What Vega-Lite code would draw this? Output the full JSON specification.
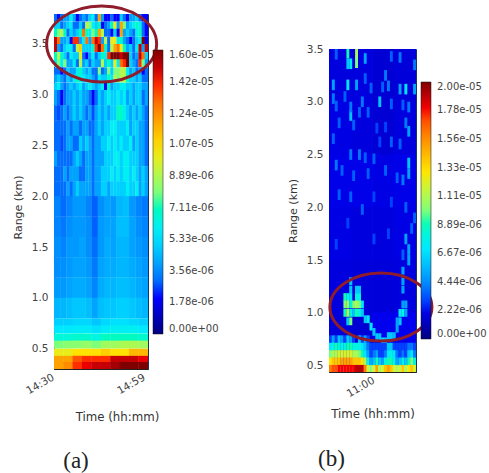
{"$schema":"https://vega.github.io/schema/vega-lite/v6.json","padding":{"left":11,"top":-1,"right":0,"bottom":0},"background":"white","bounds":"flush","spacing":181,"resolve":{"scale":{"color":"independent"},"legend":{"color":"independent"}},"config":{"view":{"stroke":null},"axis":{"grid":false,"ticks":false,"labelFont":"DejaVu Sans","titleFont":"DejaVu Sans","labelFontSize":10.5,"titleFontSize":11,"labelColor":"#444","titleColor":"#333","titleFontWeight":"normal","domainColor":"#222","labelPadding":6},"legend":{"labelFont":"DejaVu Sans"},"title":{"font":"Liberation Serif","fontSize":23,"fontWeight":"normal","color":"#222"}},"datasets":{"a1":[{"x":30,"y":3.76,"v":3},{"x":31,"y":3.76,"v":2},{"x":32,"y":3.76,"v":3},{"x":33,"y":3.76,"v":4},{"x":34,"y":3.76,"v":4},{"x":35,"y":3.76,"v":6},{"x":36,"y":3.76,"v":4},{"x":37,"y":3.76,"v":2},{"x":38,"y":3.76,"v":3},{"x":39,"y":3.76,"v":4},{"x":40,"y":3.76,"v":3},{"x":41,"y":3.76,"v":5},{"x":42,"y":3.76,"v":6},{"x":43,"y":3.76,"v":3},{"x":44,"y":3.76,"v":12},{"x":45,"y":3.76,"v":4},{"x":46,"y":3.76,"v":2},{"x":47,"y":3.76,"v":2},{"x":48,"y":3.76,"v":3},{"x":49,"y":3.76,"v":2},{"x":50,"y":3.76,"v":2},{"x":51,"y":3.76,"v":5},{"x":52,"y":3.76,"v":3},{"x":53,"y":3.76,"v":2},{"x":54,"y":3.76,"v":4},{"x":55,"y":3.76,"v":4},{"x":56,"y":3.76,"v":5},{"x":57,"y":3.76,"v":3},{"x":58,"y":3.76,"v":2},{"x":59,"y":3.76,"v":2},{"x":30,"y":3.68,"v":5},{"x":31,"y":3.68,"v":5},{"x":32,"y":3.68,"v":3},{"x":33,"y":3.68,"v":4},{"x":34,"y":3.68,"v":5},{"x":35,"y":3.68,"v":6},{"x":36,"y":3.68,"v":3},{"x":37,"y":3.68,"v":3},{"x":38,"y":3.68,"v":5},{"x":39,"y":3.68,"v":3},{"x":40,"y":3.68,"v":9},{"x":41,"y":3.68,"v":8},{"x":42,"y":3.68,"v":6},{"x":43,"y":3.68,"v":5},{"x":44,"y":3.68,"v":7},{"x":45,"y":3.68,"v":2},{"x":46,"y":3.68,"v":3},{"x":47,"y":3.68,"v":4},{"x":48,"y":3.68,"v":7},{"x":49,"y":3.68,"v":10},{"x":50,"y":3.68,"v":4},{"x":51,"y":3.68,"v":12},{"x":52,"y":3.68,"v":8},{"x":53,"y":3.68,"v":4},{"x":54,"y":3.68,"v":5},{"x":55,"y":3.68,"v":6},{"x":56,"y":3.68,"v":7},{"x":57,"y":3.68,"v":6},{"x":58,"y":3.68,"v":3},{"x":59,"y":3.68,"v":2},{"x":30,"y":3.61,"v":7},{"x":31,"y":3.61,"v":8},{"x":32,"y":3.61,"v":9},{"x":33,"y":3.61,"v":7},{"x":34,"y":3.61,"v":3},{"x":35,"y":3.61,"v":5},{"x":36,"y":3.61,"v":4},{"x":37,"y":3.61,"v":5},{"x":38,"y":3.61,"v":7},{"x":39,"y":3.61,"v":13},{"x":40,"y":3.61,"v":7},{"x":41,"y":3.61,"v":6},{"x":42,"y":3.61,"v":8},{"x":43,"y":3.61,"v":7},{"x":44,"y":3.61,"v":12},{"x":45,"y":3.61,"v":9},{"x":46,"y":3.61,"v":3},{"x":47,"y":3.61,"v":3},{"x":48,"y":3.61,"v":2},{"x":49,"y":3.61,"v":5},{"x":50,"y":3.61,"v":2},{"x":51,"y":3.61,"v":12},{"x":52,"y":3.61,"v":4},{"x":53,"y":3.61,"v":5},{"x":54,"y":3.61,"v":4},{"x":55,"y":3.61,"v":3},{"x":56,"y":3.61,"v":6},{"x":57,"y":3.61,"v":7},{"x":58,"y":3.61,"v":3},{"x":59,"y":3.61,"v":2},{"x":30,"y":3.53,"v":15},{"x":31,"y":3.53,"v":13},{"x":32,"y":3.53,"v":4},{"x":33,"y":3.53,"v":4},{"x":34,"y":3.53,"v":5},{"x":35,"y":3.53,"v":2},{"x":36,"y":3.53,"v":14},{"x":37,"y":3.53,"v":14},{"x":38,"y":3.53,"v":4},{"x":39,"y":3.53,"v":6},{"x":40,"y":3.53,"v":13},{"x":41,"y":3.53,"v":4},{"x":42,"y":3.53,"v":13},{"x":43,"y":3.53,"v":15},{"x":44,"y":3.53,"v":14},{"x":45,"y":3.53,"v":4},{"x":46,"y":3.53,"v":9},{"x":47,"y":3.53,"v":3},{"x":48,"y":3.53,"v":10},{"x":49,"y":3.53,"v":10},{"x":50,"y":3.53,"v":6},{"x":51,"y":3.53,"v":7},{"x":52,"y":3.53,"v":4},{"x":53,"y":3.53,"v":3},{"x":54,"y":3.53,"v":2},{"x":55,"y":3.53,"v":3},{"x":56,"y":3.53,"v":5},{"x":57,"y":3.53,"v":6},{"x":58,"y":3.53,"v":16},{"x":59,"y":3.53,"v":2},{"x":30,"y":3.46,"v":15},{"x":31,"y":3.46,"v":4},{"x":32,"y":3.46,"v":3},{"x":33,"y":3.46,"v":5},{"x":34,"y":3.46,"v":6},{"x":35,"y":3.46,"v":6},{"x":36,"y":3.46,"v":3},{"x":37,"y":3.46,"v":9},{"x":38,"y":3.46,"v":11},{"x":39,"y":3.46,"v":5},{"x":40,"y":3.46,"v":5},{"x":41,"y":3.46,"v":5},{"x":42,"y":3.46,"v":7},{"x":43,"y":3.46,"v":14},{"x":44,"y":3.46,"v":16},{"x":45,"y":3.46,"v":13},{"x":46,"y":3.46,"v":7},{"x":47,"y":3.46,"v":3},{"x":48,"y":3.46,"v":9},{"x":49,"y":3.46,"v":12},{"x":50,"y":3.46,"v":13},{"x":51,"y":3.46,"v":10},{"x":52,"y":3.46,"v":7},{"x":53,"y":3.46,"v":4},{"x":54,"y":3.46,"v":5},{"x":55,"y":3.46,"v":3},{"x":56,"y":3.46,"v":6},{"x":57,"y":3.46,"v":15},{"x":58,"y":3.46,"v":4},{"x":59,"y":3.46,"v":15},{"x":30,"y":3.38,"v":7},{"x":31,"y":3.38,"v":9},{"x":32,"y":3.38,"v":7},{"x":33,"y":3.38,"v":5},{"x":34,"y":3.38,"v":3},{"x":35,"y":3.38,"v":6},{"x":36,"y":3.38,"v":5},{"x":37,"y":3.38,"v":5},{"x":38,"y":3.38,"v":10},{"x":39,"y":3.38,"v":3},{"x":40,"y":3.38,"v":2},{"x":41,"y":3.38,"v":4},{"x":42,"y":3.38,"v":6},{"x":43,"y":3.38,"v":3},{"x":44,"y":3.38,"v":5},{"x":45,"y":3.38,"v":7},{"x":46,"y":3.38,"v":6},{"x":47,"y":3.38,"v":14},{"x":48,"y":3.38,"v":16},{"x":49,"y":3.38,"v":16},{"x":50,"y":3.38,"v":16},{"x":51,"y":3.38,"v":15},{"x":52,"y":3.38,"v":16},{"x":53,"y":3.38,"v":16},{"x":54,"y":3.38,"v":5},{"x":55,"y":3.38,"v":3},{"x":56,"y":3.38,"v":4},{"x":57,"y":3.38,"v":15},{"x":58,"y":3.38,"v":13},{"x":59,"y":3.38,"v":5},{"x":30,"y":3.31,"v":6},{"x":31,"y":3.31,"v":8},{"x":32,"y":3.31,"v":6},{"x":33,"y":3.31,"v":8},{"x":34,"y":3.31,"v":4},{"x":35,"y":3.31,"v":4},{"x":36,"y":3.31,"v":6},{"x":37,"y":3.31,"v":3},{"x":38,"y":3.31,"v":9},{"x":39,"y":3.31,"v":4},{"x":40,"y":3.31,"v":5},{"x":41,"y":3.31,"v":3},{"x":42,"y":3.31,"v":5},{"x":43,"y":3.31,"v":4},{"x":44,"y":3.31,"v":4},{"x":45,"y":3.31,"v":9},{"x":46,"y":3.31,"v":5},{"x":47,"y":3.31,"v":7},{"x":48,"y":3.31,"v":5},{"x":49,"y":3.31,"v":10},{"x":50,"y":3.31,"v":6},{"x":51,"y":3.31,"v":13},{"x":52,"y":3.31,"v":14},{"x":53,"y":3.31,"v":16},{"x":54,"y":3.31,"v":5},{"x":55,"y":3.31,"v":4},{"x":56,"y":3.31,"v":3},{"x":57,"y":3.31,"v":14},{"x":58,"y":3.31,"v":8},{"x":59,"y":3.31,"v":4},{"x":30,"y":3.23,"v":3},{"x":31,"y":3.23,"v":3},{"x":32,"y":3.23,"v":2},{"x":33,"y":3.23,"v":3},{"x":34,"y":3.23,"v":5},{"x":35,"y":3.23,"v":4},{"x":36,"y":3.23,"v":4},{"x":37,"y":3.23,"v":6},{"x":38,"y":3.23,"v":7},{"x":39,"y":3.23,"v":5},{"x":40,"y":3.23,"v":4},{"x":41,"y":3.23,"v":5},{"x":42,"y":3.23,"v":3},{"x":43,"y":3.23,"v":3},{"x":44,"y":3.23,"v":8},{"x":45,"y":3.23,"v":3},{"x":46,"y":3.23,"v":4},{"x":47,"y":3.23,"v":8},{"x":48,"y":3.23,"v":5},{"x":49,"y":3.23,"v":8},{"x":50,"y":3.23,"v":8},{"x":51,"y":3.23,"v":9},{"x":52,"y":3.23,"v":9},{"x":53,"y":3.23,"v":6},{"x":54,"y":3.23,"v":4},{"x":55,"y":3.23,"v":5},{"x":56,"y":3.23,"v":3},{"x":57,"y":3.23,"v":4},{"x":58,"y":3.23,"v":2},{"x":59,"y":3.23,"v":3},{"x":30,"y":3.16,"v":4},{"x":31,"y":3.16,"v":5},{"x":32,"y":3.16,"v":4},{"x":33,"y":3.16,"v":3},{"x":34,"y":3.16,"v":5},{"x":35,"y":3.16,"v":4},{"x":36,"y":3.16,"v":6},{"x":37,"y":3.16,"v":7},{"x":38,"y":3.16,"v":6},{"x":39,"y":3.16,"v":6},{"x":40,"y":3.16,"v":5},{"x":41,"y":3.16,"v":5},{"x":42,"y":3.16,"v":4},{"x":43,"y":3.16,"v":3},{"x":44,"y":3.16,"v":6},{"x":45,"y":3.16,"v":5},{"x":46,"y":3.16,"v":5},{"x":47,"y":3.16,"v":7},{"x":48,"y":3.16,"v":6},{"x":49,"y":3.16,"v":9},{"x":50,"y":3.16,"v":8},{"x":51,"y":3.16,"v":9},{"x":52,"y":3.16,"v":9},{"x":53,"y":3.16,"v":7},{"x":54,"y":3.16,"v":5},{"x":55,"y":3.16,"v":5},{"x":56,"y":3.16,"v":4},{"x":57,"y":3.16,"v":5},{"x":58,"y":3.16,"v":3},{"x":59,"y":3.16,"v":3},{"x":30,"y":3.08,"v":5},{"x":31,"y":3.08,"v":6},{"x":32,"y":3.08,"v":4},{"x":33,"y":3.08,"v":3},{"x":34,"y":3.08,"v":4},{"x":35,"y":3.08,"v":5},{"x":36,"y":3.08,"v":4},{"x":37,"y":3.08,"v":5},{"x":38,"y":3.08,"v":6},{"x":39,"y":3.08,"v":4},{"x":40,"y":3.08,"v":5},{"x":41,"y":3.08,"v":6},{"x":42,"y":3.08,"v":5},{"x":43,"y":3.08,"v":4},{"x":44,"y":3.08,"v":5},{"x":45,"y":3.08,"v":6},{"x":46,"y":3.08,"v":2},{"x":47,"y":3.08,"v":7},{"x":48,"y":3.08,"v":4},{"x":49,"y":3.08,"v":5},{"x":50,"y":3.08,"v":5},{"x":51,"y":3.08,"v":6},{"x":52,"y":3.08,"v":6},{"x":53,"y":3.08,"v":5},{"x":54,"y":3.08,"v":5},{"x":55,"y":3.08,"v":4},{"x":56,"y":3.08,"v":5},{"x":57,"y":3.08,"v":5},{"x":58,"y":3.08,"v":4},{"x":59,"y":3.08,"v":4}],"a2":[{"x":30,"y":2.97,"v":4},{"x":31,"y":2.97,"v":3},{"x":32,"y":2.97,"v":2},{"x":33,"y":2.97,"v":3},{"x":34,"y":2.97,"v":4},{"x":35,"y":2.97,"v":4},{"x":36,"y":2.97,"v":5},{"x":37,"y":2.97,"v":4},{"x":38,"y":2.97,"v":5},{"x":39,"y":2.97,"v":4},{"x":40,"y":2.97,"v":4},{"x":41,"y":2.97,"v":3},{"x":42,"y":2.97,"v":2},{"x":43,"y":2.97,"v":3},{"x":44,"y":2.97,"v":5},{"x":45,"y":2.97,"v":4},{"x":46,"y":2.97,"v":5},{"x":47,"y":2.97,"v":6},{"x":48,"y":2.97,"v":5},{"x":49,"y":2.97,"v":5},{"x":50,"y":2.97,"v":6},{"x":51,"y":2.97,"v":5},{"x":52,"y":2.97,"v":6},{"x":53,"y":2.97,"v":4},{"x":54,"y":2.97,"v":5},{"x":55,"y":2.97,"v":4},{"x":56,"y":2.97,"v":5},{"x":57,"y":2.97,"v":5},{"x":58,"y":2.97,"v":3},{"x":59,"y":2.97,"v":4},{"x":30,"y":2.82,"v":3},{"x":31,"y":2.82,"v":2.5},{"x":32,"y":2.82,"v":3},{"x":33,"y":2.82,"v":4},{"x":34,"y":2.82,"v":3},{"x":35,"y":2.82,"v":4},{"x":36,"y":2.82,"v":5},{"x":37,"y":2.82,"v":4},{"x":38,"y":2.82,"v":5},{"x":39,"y":2.82,"v":4},{"x":40,"y":2.82,"v":3},{"x":41,"y":2.82,"v":4},{"x":42,"y":2.82,"v":2.5},{"x":43,"y":2.82,"v":4},{"x":44,"y":2.82,"v":5},{"x":45,"y":2.82,"v":4},{"x":46,"y":2.82,"v":5},{"x":47,"y":2.82,"v":4},{"x":48,"y":2.82,"v":5},{"x":49,"y":2.82,"v":5},{"x":50,"y":2.82,"v":7},{"x":51,"y":2.82,"v":7},{"x":52,"y":2.82,"v":6},{"x":53,"y":2.82,"v":5},{"x":54,"y":2.82,"v":4},{"x":55,"y":2.82,"v":5},{"x":56,"y":2.82,"v":4},{"x":57,"y":2.82,"v":5},{"x":58,"y":2.82,"v":4},{"x":59,"y":2.82,"v":3},{"x":30,"y":2.67,"v":3},{"x":31,"y":2.67,"v":3},{"x":32,"y":2.67,"v":3},{"x":33,"y":2.67,"v":3},{"x":34,"y":2.67,"v":4},{"x":35,"y":2.67,"v":3},{"x":36,"y":2.67,"v":4},{"x":37,"y":2.67,"v":4},{"x":38,"y":2.67,"v":3},{"x":39,"y":2.67,"v":4},{"x":40,"y":2.67,"v":4},{"x":41,"y":2.67,"v":3},{"x":42,"y":2.67,"v":3},{"x":43,"y":2.67,"v":4},{"x":44,"y":2.67,"v":5},{"x":45,"y":2.67,"v":4},{"x":46,"y":2.67,"v":5},{"x":47,"y":2.67,"v":5},{"x":48,"y":2.67,"v":6},{"x":49,"y":2.67,"v":6},{"x":50,"y":2.67,"v":5},{"x":51,"y":2.67,"v":5},{"x":52,"y":2.67,"v":5},{"x":53,"y":2.67,"v":6},{"x":54,"y":2.67,"v":4},{"x":55,"y":2.67,"v":5},{"x":56,"y":2.67,"v":5},{"x":57,"y":2.67,"v":4},{"x":58,"y":2.67,"v":4},{"x":59,"y":2.67,"v":3},{"x":30,"y":2.52,"v":3},{"x":31,"y":2.52,"v":3},{"x":32,"y":2.52,"v":2.5},{"x":33,"y":2.52,"v":3},{"x":34,"y":2.52,"v":4},{"x":35,"y":2.52,"v":4},{"x":36,"y":2.52,"v":3},{"x":37,"y":2.52,"v":3},{"x":38,"y":2.52,"v":5},{"x":39,"y":2.52,"v":4},{"x":40,"y":2.52,"v":5},{"x":41,"y":2.52,"v":4},{"x":42,"y":2.52,"v":3},{"x":43,"y":2.52,"v":4},{"x":44,"y":2.52,"v":4},{"x":45,"y":2.52,"v":5},{"x":46,"y":2.52,"v":5},{"x":47,"y":2.52,"v":6},{"x":48,"y":2.52,"v":5},{"x":49,"y":2.52,"v":6},{"x":50,"y":2.52,"v":5},{"x":51,"y":2.52,"v":6},{"x":52,"y":2.52,"v":5},{"x":53,"y":2.52,"v":5},{"x":54,"y":2.52,"v":6},{"x":55,"y":2.52,"v":4},{"x":56,"y":2.52,"v":5},{"x":57,"y":2.52,"v":4},{"x":58,"y":2.52,"v":4},{"x":59,"y":2.52,"v":3},{"x":30,"y":2.37,"v":4},{"x":31,"y":2.37,"v":3},{"x":32,"y":2.37,"v":3},{"x":33,"y":2.37,"v":3},{"x":34,"y":2.37,"v":3},{"x":35,"y":2.37,"v":3},{"x":36,"y":2.37,"v":4},{"x":37,"y":2.37,"v":5},{"x":38,"y":2.37,"v":4},{"x":39,"y":2.37,"v":3},{"x":40,"y":2.37,"v":4},{"x":41,"y":2.37,"v":4},{"x":42,"y":2.37,"v":3},{"x":43,"y":2.37,"v":4},{"x":44,"y":2.37,"v":4},{"x":45,"y":2.37,"v":4},{"x":46,"y":2.37,"v":5},{"x":47,"y":2.37,"v":5},{"x":48,"y":2.37,"v":5},{"x":49,"y":2.37,"v":6},{"x":50,"y":2.37,"v":6},{"x":51,"y":2.37,"v":5},{"x":52,"y":2.37,"v":6},{"x":53,"y":2.37,"v":6},{"x":54,"y":2.37,"v":5},{"x":55,"y":2.37,"v":5},{"x":56,"y":2.37,"v":5},{"x":57,"y":2.37,"v":4},{"x":58,"y":2.37,"v":4},{"x":59,"y":2.37,"v":3},{"x":30,"y":2.22,"v":3},{"x":31,"y":2.22,"v":3},{"x":32,"y":2.22,"v":3},{"x":33,"y":2.22,"v":4},{"x":34,"y":2.22,"v":3},{"x":35,"y":2.22,"v":4},{"x":36,"y":2.22,"v":4},{"x":37,"y":2.22,"v":4},{"x":38,"y":2.22,"v":3},{"x":39,"y":2.22,"v":3},{"x":40,"y":2.22,"v":4},{"x":41,"y":2.22,"v":4},{"x":42,"y":2.22,"v":3},{"x":43,"y":2.22,"v":4},{"x":44,"y":2.22,"v":4},{"x":45,"y":2.22,"v":5},{"x":46,"y":2.22,"v":5},{"x":47,"y":2.22,"v":5},{"x":48,"y":2.22,"v":6},{"x":49,"y":2.22,"v":5},{"x":50,"y":2.22,"v":6},{"x":51,"y":2.22,"v":5},{"x":52,"y":2.22,"v":6},{"x":53,"y":2.22,"v":6},{"x":54,"y":2.22,"v":5},{"x":55,"y":2.22,"v":6},{"x":56,"y":2.22,"v":5},{"x":57,"y":2.22,"v":4},{"x":58,"y":2.22,"v":5},{"x":59,"y":2.22,"v":4},{"x":30,"y":2.07,"v":3},{"x":31,"y":2.07,"v":3},{"x":32,"y":2.07,"v":3},{"x":33,"y":2.07,"v":3},{"x":34,"y":2.07,"v":4},{"x":35,"y":2.07,"v":3},{"x":36,"y":2.07,"v":4},{"x":37,"y":2.07,"v":5},{"x":38,"y":2.07,"v":4},{"x":39,"y":2.07,"v":4},{"x":40,"y":2.07,"v":4},{"x":41,"y":2.07,"v":4},{"x":42,"y":2.07,"v":3},{"x":43,"y":2.07,"v":4},{"x":44,"y":2.07,"v":4},{"x":45,"y":2.07,"v":5},{"x":46,"y":2.07,"v":5},{"x":47,"y":2.07,"v":4},{"x":48,"y":2.07,"v":5},{"x":49,"y":2.07,"v":5},{"x":50,"y":2.07,"v":5},{"x":51,"y":2.07,"v":5},{"x":52,"y":2.07,"v":5},{"x":53,"y":2.07,"v":6},{"x":54,"y":2.07,"v":5},{"x":55,"y":2.07,"v":5},{"x":56,"y":2.07,"v":6},{"x":57,"y":2.07,"v":4},{"x":58,"y":2.07,"v":5},{"x":59,"y":2.07,"v":4}],"a3":[{"x":30.5,"y":1.9,"v":3.4},{"x":32.5,"y":1.9,"v":3},{"x":34.5,"y":1.9,"v":3.4},{"x":36.5,"y":1.9,"v":3.8},{"x":38.5,"y":1.9,"v":3.8},{"x":40.5,"y":1.9,"v":3.4},{"x":42.5,"y":1.9,"v":2.8},{"x":44.5,"y":1.9,"v":3.6},{"x":46.5,"y":1.9,"v":4},{"x":48.5,"y":1.9,"v":3.8},{"x":50.5,"y":1.9,"v":4.4},{"x":52.5,"y":1.9,"v":4.6},{"x":54.5,"y":1.9,"v":3.8},{"x":56.5,"y":1.9,"v":3.4},{"x":58.5,"y":1.9,"v":3.2},{"x":30.5,"y":1.7,"v":3.4},{"x":32.5,"y":1.7,"v":3.2},{"x":34.5,"y":1.7,"v":3.6},{"x":36.5,"y":1.7,"v":3.8},{"x":38.5,"y":1.7,"v":3.8},{"x":40.5,"y":1.7,"v":3.6},{"x":42.5,"y":1.7,"v":2.8},{"x":44.5,"y":1.7,"v":3.8},{"x":46.5,"y":1.7,"v":4},{"x":48.5,"y":1.7,"v":4},{"x":50.5,"y":1.7,"v":4.6},{"x":52.5,"y":1.7,"v":4.6},{"x":54.5,"y":1.7,"v":4},{"x":56.5,"y":1.7,"v":3.6},{"x":58.5,"y":1.7,"v":3.4},{"x":30.5,"y":1.5,"v":3.6},{"x":32.5,"y":1.5,"v":3.4},{"x":34.5,"y":1.5,"v":3.8},{"x":36.5,"y":1.5,"v":3.8},{"x":38.5,"y":1.5,"v":4},{"x":40.5,"y":1.5,"v":3.6},{"x":42.5,"y":1.5,"v":3},{"x":44.5,"y":1.5,"v":3.8},{"x":46.5,"y":1.5,"v":4.2},{"x":48.5,"y":1.5,"v":4},{"x":50.5,"y":1.5,"v":4.4},{"x":52.5,"y":1.5,"v":4.4},{"x":54.5,"y":1.5,"v":4},{"x":56.5,"y":1.5,"v":3.8},{"x":58.5,"y":1.5,"v":3.6},{"x":30.5,"y":1.3,"v":3.6},{"x":32.5,"y":1.3,"v":3.6},{"x":34.5,"y":1.3,"v":3.8},{"x":36.5,"y":1.3,"v":4},{"x":38.5,"y":1.3,"v":4},{"x":40.5,"y":1.3,"v":3.8},{"x":42.5,"y":1.3,"v":3.2},{"x":44.5,"y":1.3,"v":4},{"x":46.5,"y":1.3,"v":4.2},{"x":48.5,"y":1.3,"v":4.2},{"x":50.5,"y":1.3,"v":4.4},{"x":52.5,"y":1.3,"v":4.4},{"x":54.5,"y":1.3,"v":4.2},{"x":56.5,"y":1.3,"v":4},{"x":58.5,"y":1.3,"v":3.8},{"x":30.5,"y":1.1,"v":3.8},{"x":32.5,"y":1.1,"v":3.8},{"x":34.5,"y":1.1,"v":4},{"x":36.5,"y":1.1,"v":4.2},{"x":38.5,"y":1.1,"v":4.2},{"x":40.5,"y":1.1,"v":4},{"x":42.5,"y":1.1,"v":3.4},{"x":44.5,"y":1.1,"v":4.2},{"x":46.5,"y":1.1,"v":4.4},{"x":48.5,"y":1.1,"v":4.4},{"x":50.5,"y":1.1,"v":4.6},{"x":52.5,"y":1.1,"v":4.6},{"x":54.5,"y":1.1,"v":4.4},{"x":56.5,"y":1.1,"v":4.2},{"x":58.5,"y":1.1,"v":4},{"x":30.5,"y":0.9,"v":4.4},{"x":32.5,"y":0.9,"v":4.4},{"x":34.5,"y":0.9,"v":4.6},{"x":36.5,"y":0.9,"v":4.8},{"x":38.5,"y":0.9,"v":4.8},{"x":40.5,"y":0.9,"v":4.6},{"x":42.5,"y":0.9,"v":4},{"x":44.5,"y":0.9,"v":4.6},{"x":46.5,"y":0.9,"v":4.8},{"x":48.5,"y":0.9,"v":4.8},{"x":50.5,"y":0.9,"v":5},{"x":52.5,"y":0.9,"v":5},{"x":54.5,"y":0.9,"v":4.8},{"x":56.5,"y":0.9,"v":4.6},{"x":58.5,"y":0.9,"v":4.4}],"a4":[{"x":31,"y":0.76,"v":5},{"x":34,"y":0.76,"v":5},{"x":37,"y":0.76,"v":5.2},{"x":40,"y":0.76,"v":5.2},{"x":43,"y":0.76,"v":4.8},{"x":46,"y":0.76,"v":5.2},{"x":49,"y":0.76,"v":5.4},{"x":52,"y":0.76,"v":5.4},{"x":55,"y":0.76,"v":5.2},{"x":58,"y":0.76,"v":5},{"x":31,"y":0.69,"v":5.6},{"x":34,"y":0.69,"v":5.6},{"x":37,"y":0.69,"v":5.8},{"x":40,"y":0.69,"v":5.8},{"x":43,"y":0.69,"v":5.4},{"x":46,"y":0.69,"v":5.8},{"x":49,"y":0.69,"v":6},{"x":52,"y":0.69,"v":6},{"x":55,"y":0.69,"v":6},{"x":58,"y":0.69,"v":5.6},{"x":31,"y":0.61,"v":6.6},{"x":34,"y":0.61,"v":6.6},{"x":37,"y":0.61,"v":6.8},{"x":40,"y":0.61,"v":6.8},{"x":43,"y":0.61,"v":6.4},{"x":46,"y":0.61,"v":7},{"x":49,"y":0.61,"v":7},{"x":52,"y":0.61,"v":7},{"x":55,"y":0.61,"v":7},{"x":58,"y":0.61,"v":6.8},{"x":31,"y":0.54,"v":8},{"x":34,"y":0.54,"v":8.2},{"x":37,"y":0.54,"v":8.2},{"x":40,"y":0.54,"v":8.4},{"x":43,"y":0.54,"v":8},{"x":46,"y":0.54,"v":8.6},{"x":49,"y":0.54,"v":8.6},{"x":52,"y":0.54,"v":8.8},{"x":55,"y":0.54,"v":8.8},{"x":58,"y":0.54,"v":8.6},{"x":31,"y":0.46,"v":10},{"x":34,"y":0.46,"v":10},{"x":37,"y":0.46,"v":10.5},{"x":40,"y":0.46,"v":10.5},{"x":43,"y":0.46,"v":10.5},{"x":46,"y":0.46,"v":11},{"x":49,"y":0.46,"v":10.5},{"x":52,"y":0.46,"v":10.5},{"x":55,"y":0.46,"v":11.5},{"x":58,"y":0.46,"v":11.5},{"x":31,"y":0.39,"v":12},{"x":34,"y":0.39,"v":12},{"x":37,"y":0.39,"v":13.5},{"x":40,"y":0.39,"v":14},{"x":43,"y":0.39,"v":14},{"x":46,"y":0.39,"v":14},{"x":49,"y":0.39,"v":15},{"x":52,"y":0.39,"v":15},{"x":55,"y":0.39,"v":15},{"x":58,"y":0.39,"v":14.5},{"x":31,"y":0.33,"v":12},{"x":34,"y":0.33,"v":12.5},{"x":37,"y":0.33,"v":14},{"x":40,"y":0.33,"v":14.5},{"x":43,"y":0.33,"v":15},{"x":46,"y":0.33,"v":15},{"x":49,"y":0.33,"v":15.5},{"x":52,"y":0.33,"v":16},{"x":55,"y":0.33,"v":16},{"x":58,"y":0.33,"v":16}],"b0":[{"x":48.25,"y":3.25,"v":1.9},{"x":55.75,"y":3.25,"v":1.9},{"x":63.25,"y":3.25,"v":1.7},{"x":70.75,"y":3.25,"v":1.8},{"x":48.25,"y":2.75,"v":2},{"x":55.75,"y":2.75,"v":1.9},{"x":63.25,"y":2.75,"v":1.7},{"x":70.75,"y":2.75,"v":1.9},{"x":48.25,"y":2.25,"v":2.1},{"x":55.75,"y":2.25,"v":2.1},{"x":63.25,"y":2.25,"v":2},{"x":70.75,"y":2.25,"v":2.1},{"x":48.25,"y":1.75,"v":2},{"x":55.75,"y":1.75,"v":1.9},{"x":63.25,"y":1.75,"v":1.9},{"x":70.75,"y":1.75,"v":2},{"x":48.25,"y":1.25,"v":1.9},{"x":55.75,"y":1.25,"v":1.8},{"x":63.25,"y":1.25,"v":1.8},{"x":70.75,"y":1.25,"v":1.9},{"x":48.25,"y":0.75,"v":1.8},{"x":55.75,"y":0.75,"v":1.7},{"x":63.25,"y":0.75,"v":2.2},{"x":70.75,"y":0.75,"v":2.2}],"b1":[{"x":47,"y":3.45,"v":3.5},{"x":51,"y":3.46,"v":9},{"x":54,"y":3.45,"v":11},{"x":54,"y":3.37,"v":10},{"x":51,"y":3.36,"v":6},{"x":52,"y":3.36,"v":7},{"x":57,"y":3.41,"v":5},{"x":66,"y":3.43,"v":3.5},{"x":69,"y":3.42,"v":4},{"x":74,"y":3.35,"v":4},{"x":64,"y":3.25,"v":4},{"x":65,"y":3.15,"v":4},{"x":57,"y":3.22,"v":3.5},{"x":46,"y":3.16,"v":5},{"x":51,"y":3.16,"v":7},{"x":54,"y":3.16,"v":5},{"x":59,"y":3.13,"v":3.5},{"x":63,"y":3.14,"v":3.5},{"x":69,"y":3.12,"v":5},{"x":71,"y":3.12,"v":7},{"x":74,"y":3.12,"v":5},{"x":46,"y":3.03,"v":4},{"x":47,"y":2.96,"v":3.5},{"x":50,"y":3.05,"v":3.5},{"x":56,"y":3,"v":4},{"x":62,"y":3,"v":6},{"x":66,"y":2.98,"v":3.5},{"x":70,"y":2.97,"v":3.5},{"x":72,"y":2.95,"v":4},{"x":52,"y":2.87,"v":6},{"x":52,"y":2.95,"v":4},{"x":55,"y":2.9,"v":3.5},{"x":58,"y":2.9,"v":3.5},{"x":48,"y":2.8,"v":3.5},{"x":53,"y":2.78,"v":3.5},{"x":61,"y":2.75,"v":3},{"x":64,"y":2.76,"v":3},{"x":71,"y":2.8,"v":4},{"x":72,"y":2.72,"v":5},{"x":46,"y":2.65,"v":3.5},{"x":62,"y":2.62,"v":3},{"x":66,"y":2.62,"v":3.5},{"x":69,"y":2.6,"v":3.5},{"x":47,"y":2.4,"v":4},{"x":52,"y":2.5,"v":4},{"x":55,"y":2.5,"v":4},{"x":57,"y":2.47,"v":3.5},{"x":60,"y":2.46,"v":3.5},{"x":72,"y":2.42,"v":6},{"x":72,"y":2.32,"v":5},{"x":49,"y":2.35,"v":3.5},{"x":53,"y":2.3,"v":3.5},{"x":58,"y":2.32,"v":3.5},{"x":64,"y":2.35,"v":3.5},{"x":68,"y":2.28,"v":3.5},{"x":70,"y":2.26,"v":4},{"x":48,"y":2.12,"v":3.5},{"x":52,"y":2.1,"v":3.5},{"x":56,"y":1.98,"v":3.5},{"x":60,"y":2.1,"v":3},{"x":66,"y":2.05,"v":3},{"x":71,"y":2,"v":3.5},{"x":71,"y":1.7,"v":5},{"x":72,"y":1.6,"v":5},{"x":72,"y":1.5,"v":5},{"x":73,"y":1.8,"v":3.5},{"x":70,"y":1.55,"v":3.5},{"x":51,"y":1.85,"v":3},{"x":60,"y":1.7,"v":3},{"x":65,"y":1.75,"v":3},{"x":47,"y":1.65,"v":3},{"x":74,"y":1.9,"v":3.5}],"b2":[{"x":50,"y":1.15,"v":9},{"x":50,"y":1.08,"v":10},{"x":50,"y":1,"v":9},{"x":51,"y":1.15,"v":8},{"x":51,"y":1.08,"v":11},{"x":51,"y":1,"v":11},{"x":51,"y":0.92,"v":6},{"x":52,"y":1.3,"v":6},{"x":52,"y":1.22,"v":6},{"x":52,"y":1.15,"v":7},{"x":52,"y":1.08,"v":8},{"x":52,"y":1,"v":8},{"x":52,"y":0.92,"v":10},{"x":53,"y":1.08,"v":10},{"x":53,"y":1,"v":6},{"x":54,"y":1.22,"v":6},{"x":54,"y":1.15,"v":8},{"x":54,"y":1.08,"v":11},{"x":54,"y":1,"v":9},{"x":55,"y":1.22,"v":6},{"x":55,"y":1.15,"v":8},{"x":55,"y":1.08,"v":10},{"x":55,"y":1,"v":8},{"x":56,"y":1.08,"v":7},{"x":56,"y":1,"v":6},{"x":57,"y":0.94,"v":6},{"x":58,"y":0.94,"v":7},{"x":59,"y":0.87,"v":7},{"x":60,"y":0.82,"v":6},{"x":61,"y":0.77,"v":6},{"x":62,"y":0.77,"v":6},{"x":63,"y":0.73,"v":6.5},{"x":64,"y":0.73,"v":6},{"x":65,"y":0.78,"v":6},{"x":66,"y":0.78,"v":6},{"x":67,"y":0.78,"v":5.5},{"x":68,"y":0.85,"v":5},{"x":68,"y":0.92,"v":5},{"x":69,"y":0.92,"v":6},{"x":69,"y":1,"v":7},{"x":70,"y":1,"v":8},{"x":70,"y":1.08,"v":5},{"x":70,"y":1.22,"v":5},{"x":70,"y":1.3,"v":5},{"x":70,"y":1.4,"v":5},{"x":71,"y":1,"v":5},{"x":71,"y":1.08,"v":5},{"x":45,"y":0.75,"v":3},{"x":46,"y":0.75,"v":5},{"x":47,"y":0.75,"v":3},{"x":48,"y":0.75,"v":6},{"x":49,"y":0.75,"v":5},{"x":50,"y":0.75,"v":3},{"x":51,"y":0.75,"v":6},{"x":52,"y":0.75,"v":5},{"x":53,"y":0.75,"v":3},{"x":54,"y":0.75,"v":2},{"x":55,"y":0.75,"v":6},{"x":56,"y":0.75,"v":3},{"x":57,"y":0.75,"v":5},{"x":58,"y":0.75,"v":3},{"x":45,"y":0.68,"v":7},{"x":46,"y":0.68,"v":8},{"x":47,"y":0.68,"v":9},{"x":48,"y":0.68,"v":8},{"x":49,"y":0.68,"v":8},{"x":50,"y":0.68,"v":8},{"x":51,"y":0.68,"v":9},{"x":52,"y":0.68,"v":9},{"x":53,"y":0.68,"v":8},{"x":54,"y":0.68,"v":8},{"x":55,"y":0.68,"v":8},{"x":56,"y":0.68,"v":7},{"x":57,"y":0.68,"v":6},{"x":58,"y":0.68,"v":4},{"x":59,"y":0.68,"v":3},{"x":60,"y":0.68,"v":3},{"x":61,"y":0.68,"v":3},{"x":62,"y":0.68,"v":3},{"x":63,"y":0.68,"v":3},{"x":64,"y":0.68,"v":3},{"x":65,"y":0.68,"v":6},{"x":66,"y":0.68,"v":6},{"x":67,"y":0.68,"v":3},{"x":68,"y":0.68,"v":3},{"x":69,"y":0.68,"v":3},{"x":70,"y":0.68,"v":3},{"x":71,"y":0.68,"v":3},{"x":72,"y":0.68,"v":4},{"x":73,"y":0.68,"v":4},{"x":74,"y":0.68,"v":3},{"x":45,"y":0.61,"v":10},{"x":46,"y":0.61,"v":11},{"x":47,"y":0.61,"v":11},{"x":48,"y":0.61,"v":12},{"x":49,"y":0.61,"v":12},{"x":50,"y":0.61,"v":12},{"x":51,"y":0.61,"v":12},{"x":52,"y":0.61,"v":12},{"x":53,"y":0.61,"v":11},{"x":54,"y":0.61,"v":11},{"x":55,"y":0.61,"v":10},{"x":56,"y":0.61,"v":9},{"x":57,"y":0.61,"v":7},{"x":58,"y":0.61,"v":5},{"x":59,"y":0.61,"v":3},{"x":60,"y":0.61,"v":4},{"x":61,"y":0.61,"v":5},{"x":62,"y":0.61,"v":3},{"x":63,"y":0.61,"v":3},{"x":64,"y":0.61,"v":4},{"x":65,"y":0.61,"v":7},{"x":66,"y":0.61,"v":8},{"x":67,"y":0.61,"v":7},{"x":68,"y":0.61,"v":4},{"x":69,"y":0.61,"v":3},{"x":70,"y":0.61,"v":4},{"x":71,"y":0.61,"v":3},{"x":72,"y":0.61,"v":6},{"x":73,"y":0.61,"v":7},{"x":74,"y":0.61,"v":4},{"x":45,"y":0.54,"v":13},{"x":46,"y":0.54,"v":14},{"x":47,"y":0.54,"v":14},{"x":48,"y":0.54,"v":14},{"x":49,"y":0.54,"v":15},{"x":50,"y":0.54,"v":15},{"x":51,"y":0.54,"v":15},{"x":52,"y":0.54,"v":15},{"x":53,"y":0.54,"v":14},{"x":54,"y":0.54,"v":14},{"x":55,"y":0.54,"v":14},{"x":56,"y":0.54,"v":13},{"x":57,"y":0.54,"v":11},{"x":58,"y":0.54,"v":8},{"x":59,"y":0.54,"v":5},{"x":60,"y":0.54,"v":6},{"x":61,"y":0.54,"v":9},{"x":62,"y":0.54,"v":6},{"x":63,"y":0.54,"v":5},{"x":64,"y":0.54,"v":8},{"x":65,"y":0.54,"v":9},{"x":66,"y":0.54,"v":9},{"x":67,"y":0.54,"v":8},{"x":68,"y":0.54,"v":5},{"x":69,"y":0.54,"v":6},{"x":70,"y":0.54,"v":8},{"x":71,"y":0.54,"v":6},{"x":72,"y":0.54,"v":9},{"x":73,"y":0.54,"v":10},{"x":74,"y":0.54,"v":8},{"x":45,"y":0.47,"v":16},{"x":46,"y":0.47,"v":17},{"x":47,"y":0.47,"v":17},{"x":48,"y":0.47,"v":18},{"x":49,"y":0.47,"v":18},{"x":50,"y":0.47,"v":18},{"x":51,"y":0.47,"v":18},{"x":52,"y":0.47,"v":18},{"x":53,"y":0.47,"v":18},{"x":54,"y":0.47,"v":19},{"x":55,"y":0.47,"v":19},{"x":56,"y":0.47,"v":19},{"x":57,"y":0.47,"v":16},{"x":58,"y":0.47,"v":12},{"x":59,"y":0.47,"v":10},{"x":60,"y":0.47,"v":12},{"x":61,"y":0.47,"v":15},{"x":62,"y":0.47,"v":11},{"x":63,"y":0.47,"v":12},{"x":64,"y":0.47,"v":14},{"x":65,"y":0.47,"v":15},{"x":66,"y":0.47,"v":14},{"x":67,"y":0.47,"v":12},{"x":68,"y":0.47,"v":11},{"x":69,"y":0.47,"v":12},{"x":70,"y":0.47,"v":14},{"x":71,"y":0.47,"v":11},{"x":72,"y":0.47,"v":13},{"x":73,"y":0.47,"v":14},{"x":74,"y":0.47,"v":12}]},"hconcat":[{"width":94,"height":355,"view":{"stroke":"#17355e"},"title":{"text":"(a)","orient":"bottom","anchor":"middle","dx":-25,"offset":27},"encoding":{"x":{"field":"x","type":"quantitative","scale":{"domain":[29.5,59.5],"nice":false,"zero":false},"axis":{"values":[30,59],"labelExpr":"'14:' + datum.value","labelAngle":-30,"labelAlign":"right","labelBaseline":"top","labelOffset":-5,"labelPadding":3,"title":"Time (hh:mm)","titleFontSize":11.8,"titlePadding":15,"titleX":63}},"y":{"field":"y","type":"quantitative","scale":{"domain":[0.3,3.795],"nice":false,"zero":false},"axis":{"values":[0.5,1,1.5,2,2.5,3,3.5],"format":".1f","title":"Range (km)","titlePadding":8,"titleY":193}},"color":{"field":"v","type":"quantitative","scale":{"domain":[0,2,5.6,8,10.4,14.24,16],"range":["#00007f","#0000ff","#00e8ff","#7dff7a","#ffe600","#ff0000","#7f0000"]},"legend":{"orient":"none","legendX":99,"legendY":36,"gradientLength":284,"gradientThickness":10,"title":null,"values":[0,1.78,3.56,5.33,7.11,8.89,10.7,12.4,14.2,16],"labelExpr":"replace(replace(format(datum.value*1e-6,'.2e'),'e-','e-0'),'e+','e+0')","labelFontSize":10,"labelColor":"#444","labelOverlap":false,"gradientStrokeColor":"#111","gradientStrokeWidth":0.5,"labelOffset":6}}},"layer":[{"data":{"name":"a1"},"mark":{"type":"rect","width":3.4,"height":8,"clip":true}},{"data":{"name":"a2"},"mark":{"type":"rect","width":3.4,"height":15.6,"clip":true}},{"data":{"name":"a3"},"mark":{"type":"rect","width":6.6,"height":20.6,"clip":true}},{"data":{"name":"a4"},"mark":{"type":"rect","width":9.8,"height":8,"clip":true}},{"data":{"values":[{"x":44.7,"y":3.5}]},"mark":{"type":"point","filled":false,"opacity":1,"strokeWidth":3,"size":12100,"shape":"M-1,0A1,0.69,0,1,1,1,0A1,0.69,0,1,1,-1,0Z"},"encoding":{"color":{"value":"#8f1d2c"}}}]},{"bounds":"flush","spacing":34,"resolve":{"scale":{"color":"independent"},"legend":{"color":"independent"}},"vconcat":[{"width":87,"height":1,"data":{"values":[{"s":1}]},"mark":{"type":"text","text":" "},"encoding":{}},{"width":87,"height":323,"view":{"stroke":"#17355e"},"title":{"text":"(b)","orient":"bottom","anchor":"middle","dx":-41,"offset":28},"encoding":{"x":{"field":"x","type":"quantitative","scale":{"domain":[44.5,74.5],"nice":false,"zero":false},"axis":{"values":[60],"labelExpr":"'11:00'","labelAngle":-30,"labelAlign":"right","labelBaseline":"top","labelOffset":-3,"labelPadding":3,"title":"Time (hh:mm)","titleFontSize":11.8,"titlePadding":9}},"y":{"field":"y","type":"quantitative","scale":{"domain":[0.44,3.5],"nice":false,"zero":false},"axis":{"values":[0.5,1,1.5,2,2.5,3,3.5],"format":".1f","title":"Range (km)","titlePadding":8}},"color":{"field":"v","type":"quantitative","scale":{"domain":[0,2.5,7,10,13,17.8,20],"range":["#00007f","#0000ff","#00e8ff","#7dff7a","#ffe600","#ff0000","#7f0000"]},"legend":{"orient":"none","legendX":92,"legendY":33,"gradientLength":257,"gradientThickness":10,"title":null,"values":[0,2.22,4.44,6.67,8.89,11.1,13.3,15.6,17.8,20],"labelExpr":"replace(replace(format(datum.value*1e-6,'.2e'),'e-','e-0'),'e+','e+0')","labelFontSize":10,"labelColor":"#444","labelOverlap":false,"gradientStrokeColor":"#111","gradientStrokeWidth":0.5,"labelOffset":6}}},"layer":[{"data":{"name":"b0"},"mark":{"type":"rect","width":22.5,"height":53.5,"clip":true}},{"data":{"name":"b1"},"mark":{"type":"rect","width":2.9,"height":10.6,"clip":true}},{"data":{"name":"b2"},"mark":{"type":"rect","width":3.1,"height":7.8,"clip":true}},{"data":{"values":[{"x":62.4,"y":1.055}]},"mark":{"type":"point","filled":false,"opacity":1,"strokeWidth":3,"size":10404,"shape":"M-1,0A1,0.667,0,1,1,1,0A1,0.667,0,1,1,-1,0Z"},"encoding":{"color":{"value":"#8f1d2c"}}}]}]}]}
